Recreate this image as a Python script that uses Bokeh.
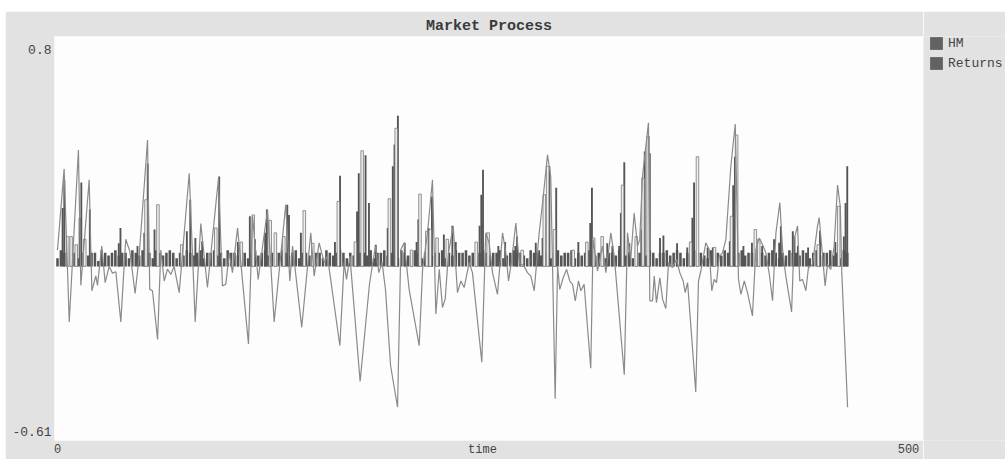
from bokeh.plotting import figure
from bokeh.layouts import row
from bokeh.models import Range1d, FixedTicker, Legend, LegendItem
from bokeh.embed import file_html
from bokeh.resources import INLINE

# ---- data ----
title_text = "Market Process"
x_label = "time"
x_label_pos = 249.7
x_ticks = [0, 500]
y_ticks = [-0.61, 0.8]
series_names = ["HM", "Returns"]

# HM line (time, value) vertices
hm_t = [0, 3.9, 6.9, 12.3, 13.7, 18.6, 20.2, 22.5, 23.5, 26,
        28, 30.4, 32.3, 34.3, 37.2, 40.1, 42.5, 45.6, 48, 52.9,
        54.2, 55.8, 58.8, 60.7, 62.7, 64.6, 66.6, 68.5, 71.5, 77.4,
        80.9, 84.2, 88.1, 94.6, 96.9, 98.9, 100.9, 102.8, 105.8, 112.2,
        114.6, 117.9, 123.4, 127.3, 134.1, 136.5, 138.1, 143.5, 148.8, 150.8,
        153.7, 156.7, 158.6, 165.9, 168.4, 169.8, 171.8, 177.8, 183.3, 184.9,
        186.8, 188.8, 190.7, 192.7, 195.7, 199.8, 201.7, 203.7, 206.6, 212.5,
        214.5, 217.4, 220.3, 222.3, 224.3, 226.2, 227.8, 229.7, 232.5, 235,
        237, 238.9, 241.9, 243.8, 249.3, 251.6, 253.6, 255.6, 258.5, 261.5,
        263.4, 265, 266.9, 269.3, 271.3, 274.2, 276.1, 278.1, 280.1, 283,
        285.2, 287.9, 289.8, 292.4, 293.8, 295.1, 297.1, 299.1, 301, 302.6,
        304.2, 306.1, 307.5, 309.4, 313.3, 314.7, 317.3, 320.2, 322.2, 325.1,
        327.1, 333, 334.9, 336.8, 338.8, 340.8, 342.1, 343.7, 347.2, 348,
        349.6, 350.6, 351.9, 353.9, 355.5, 357.4, 359, 361.3, 363.7, 365.6,
        367.6, 368.8, 370.2, 375, 376.6, 378, 380.9, 382.9, 384.4, 385.8,
        387.2, 388.8, 390.7, 392.7, 395.6, 398.2, 400.1, 401.5, 403.5, 405.4,
        408.3, 410.3, 412.3, 414.6, 416.2, 418.2, 420.1, 422.1, 424.4, 426,
        427.9, 431.3, 432.8, 434.8, 436.1, 437.7, 439.7, 441.2, 443.6, 446.5,
        447.5, 449.5, 451, 452.4, 454.3, 456.3, 458.3, 459.9, 460.8, 464.2]
hm = [0.06, 0.36, -0.205, 0.43, -0.07, 0.32, -0.09, -0.035, -0.07, 0.075,
      -0.06, 0.0, -0.025, -0.02, -0.205, 0.10, 0.056, -0.10, 0.04, 0.467,
      -0.085, -0.09, -0.27, 0.06, -0.054, -0.01, -0.03, 0.0, -0.097, 0.344,
      -0.205, 0.158, -0.078, 0.327, -0.072, -0.066, 0.05, -0.023, 0.142, -0.287,
      0.185, -0.048, 0.21, -0.205, 0.228, -0.054, 0.075, -0.225, 0.124, -0.036,
      0.087, 0.014, 0.038, -0.293, 0.014, -0.048, 0.038, -0.425, -0.066, 0.0,
      0.075, -0.023, 0.015, -0.085, -0.367, -0.52, 0.062, 0.087, -0.085, -0.293,
      -0.011, 0.125, 0.32, -0.176, -0.011, -0.152, -0.12, 0.05, 0.148, -0.097,
      -0.054, -0.078, 0.014, -0.023, -0.354, 0.124, 0.087, -0.023, -0.103, 0.124,
      0.05, -0.054, 0.026, 0.16, 0.014, 0.0, -0.023, -0.036, -0.09, 0.124,
      0.246, 0.412, 0.332, -0.489, 0.0, -0.085, -0.042, -0.011, -0.054, -0.066,
      -0.127, -0.054, -0.09, -0.066, -0.376, 0.1, -0.017, 0.075, -0.023, 0.124,
      0.038, -0.40, 0.124, 0.026, 0.197, 0.075, 0.1, 0.332, 0.53, -0.127,
      -0.127, -0.036, -0.134, -0.042, -0.121, -0.156, 0.014, -0.005, 0.026, -0.023,
      -0.054, -0.097, -0.06, -0.464, -0.054, -0.017, 0.087, 0.062, -0.09, -0.048,
      -0.06, 0.038, 0.05, 0.1, 0.369, 0.526, -0.048, -0.103, -0.054, -0.097,
      -0.183, 0.062, 0.105, 0.075, 0.05, -0.029, -0.127, 0.124, 0.236, 0.062,
      -0.036, -0.168, 0.1, 0.15, -0.054, -0.048, -0.09, -0.005, 0.007, 0.148,
      0.18, 0.038, -0.072, 0.007, -0.011, 0.075, 0.30, 0.222, -0.023, -0.52]

# Returns: small bars every second step
ret_base_t = list(range(0, 465, 2))
ret_base = [0.03, 0.06, 0.05, 0.04, 0.06, 0.05, 0.03, 0.05, 0.06, 0.04, 0.05, 0.05, 0.02, 0.06, 0.05, 0.04, 0.05, 0.06, 0.04, 0.05,
            0.05, 0.03, 0.06, 0.05, 0.04, 0.06, 0.05, 0.05, 0.03, 0.06, 0.05, 0.04, 0.05, 0.06, 0.05, 0.03, 0.05, 0.04, 0.06, 0.05,
            0.04, 0.05, 0.06, 0.03, 0.05, 0.05, 0.06, 0.04, 0.05, 0.03, 0.06, 0.05, 0.05, 0.04, 0.06, 0.05, 0.03, 0.05, 0.06, 0.04,
            0.05, 0.06, 0.04, 0.05, 0.03, 0.05, 0.06, 0.05, 0.04, 0.05, 0.06, 0.03, 0.05, 0.05, 0.04, 0.06, 0.05, 0.05, 0.03, 0.06,
            0.05, 0.04, 0.05, 0.06, 0.05, 0.03, 0.05, 0.04, 0.06, 0.05, 0.05, 0.04, 0.06, 0.03, 0.05, 0.05, 0.06, 0.04, 0.05, 0.05,
            0.03, 0.06, 0.05, 0.04, 0.05, 0.06, 0.05, 0.03, 0.05, 0.06, 0.04, 0.05, 0.05, 0.06, 0.03, 0.05, 0.04, 0.06, 0.05, 0.05,
            0.06, 0.04, 0.05, 0.03, 0.05, 0.06, 0.05, 0.04, 0.05, 0.05, 0.06, 0.03, 0.04, 0.05, 0.06, 0.05, 0.05, 0.04, 0.03, 0.06,
            0.05, 0.05, 0.04, 0.06, 0.05, 0.03, 0.05, 0.06, 0.04, 0.05, 0.05, 0.06, 0.03, 0.05, 0.04, 0.05, 0.06, 0.05, 0.04, 0.05,
            0.06, 0.03, 0.05, 0.05, 0.04, 0.06, 0.05, 0.04, 0.05, 0.03, 0.06, 0.05, 0.05, 0.04, 0.06, 0.05, 0.03, 0.05, 0.05, 0.06,
            0.04, 0.05, 0.06, 0.05, 0.03, 0.05, 0.04, 0.06, 0.05, 0.05, 0.04, 0.03, 0.06, 0.05, 0.05, 0.04, 0.06, 0.05, 0.03, 0.05,
            0.05, 0.06, 0.04, 0.05, 0.05, 0.03, 0.06, 0.05, 0.04, 0.05, 0.06, 0.05, 0.03, 0.05, 0.04, 0.06, 0.05, 0.05, 0.04, 0.06,
            0.05, 0.03, 0.05, 0.06, 0.04, 0.05, 0.05, 0.06, 0.04, 0.05, 0.03, 0.06, 0.05]

# Returns: taller bars (solid)
ret_big_t = [3, 4, 13, 14, 19, 36, 37, 47, 51, 53, 57, 76, 78, 81, 85, 95, 106, 113, 116, 122,
             123, 135, 136, 143, 163, 166, 176, 177, 181, 183, 187, 194, 197, 198, 200, 204, 211, 212, 218, 220,
             227, 232, 234, 248, 249, 250, 259, 263, 269, 270, 281, 283, 285, 289, 293, 306, 313, 314, 323, 326,
             330, 331, 333, 336, 343, 345, 348, 354, 356, 364, 370, 373, 374, 382, 385, 395, 397, 398, 403, 408,
             414, 421, 424, 425, 432, 433, 435, 441, 448, 457, 462, 463, 464]
ret_big = [0.216, 0.32, 0.18, 0.31, 0.21, 0.085, 0.142, 0.075, 0.124, 0.38, 0.136, 0.13, 0.246, 0.105, 0.093, 0.332, 0.09, 0.185, 0.1, 0.124,
           0.21, 0.228, 0.19, 0.124, 0.09, 0.335, 0.203, 0.344, 0.41, 0.234, 0.08, 0.142, 0.37, 0.45, 0.556, 0.087, 0.09, 0.173, 0.142, 0.258,
           0.118, 0.15, 0.09, 0.15, 0.265, 0.357, 0.075, 0.09, 0.075, 0.11, 0.087, 0.06, 0.105, 0.37, 0.29, 0.09, 0.16, 0.29, 0.085, 0.075,
           0.075, 0.197, 0.385, 0.085, 0.136, 0.424, 0.418, 0.105, 0.114, 0.085, 0.07, 0.18, 0.31, 0.07, 0.07, 0.093, 0.30, 0.405, 0.075, 0.087,
           0.075, 0.1, 0.087, 0.148, 0.13, 0.11, 0.075, 0.07, 0.132, 0.09, 0.11, 0.234, 0.37]

# Returns: taller bars (light)
ret_light_t = [6, 8, 11, 16, 52, 59, 73, 93, 108, 115, 125, 128, 133, 145, 150, 165, 175, 179, 195, 199,
               208, 213, 217, 219, 223, 229, 246, 253, 273, 286, 288, 292, 303, 311, 315, 320, 332, 340, 344, 347,
               372, 376, 386, 396, 399, 410, 412, 447, 459]
ret_light = [0.11, 0.11, 0.08, 0.10, 0.246, 0.228, 0.08, 0.142, 0.09, 0.19, 0.17, 0.124, 0.11, 0.206, 0.085, 0.24, 0.09, 0.427, 0.25, 0.51,
             0.06, 0.267, 0.13, 0.136, 0.105, 0.1, 0.09, 0.124, 0.06, 0.265, 0.37, 0.136, 0.06, 0.09, 0.105, 0.11, 0.30, 0.11, 0.326, 0.48,
             0.09, 0.405, 0.07, 0.185, 0.485, 0.136, 0.1, 0.08, 0.222]

BAR = "#555555"
LINE = "#8a8a8a"
KEY = "#626262"
GRAY = "#e2e2e2"
FONT = "Liberation Mono"
NAN = float("nan")

# ---- main chart ----
p = figure(width=918, height=448,
           x_range=Range1d(-1.76, 508.8), y_range=Range1d(-0.643, 0.849),
           output_backend="svg", toolbar_location=None,
           min_border_left=49, min_border_right=0, min_border_top=25, min_border_bottom=17)
p.background_fill_color = "#fdfdfd"
p.border_fill_color = GRAY
p.outline_line_color = None
p.grid.visible = False

p.title.text = title_text
p.title.align = "center"
p.title.text_font = FONT
p.title.text_font_size = "15px"
p.title.text_font_style = "bold"
p.title.text_color = "#3a3a3a"
p.title.standoff = 3

p.xaxis.ticker = FixedTicker(ticks=x_ticks + [x_label_pos])
p.xaxis.major_label_overrides = {0: "0", 500: "500", x_label_pos: x_label}
p.yaxis.ticker = FixedTicker(ticks=y_ticks)
p.yaxis.major_label_overrides = {0.8: "0.8", -0.61: "-0.61"}
for ax in (p.xaxis, p.yaxis):
    ax.axis_line_color = None
    ax.major_tick_line_color = None
    ax.major_tick_out = 0
    ax.major_tick_in = 0
    ax.minor_tick_line_color = None
    ax.minor_tick_out = 0
    ax.major_label_text_font = FONT
    ax.major_label_text_font_size = "13px"
    ax.major_label_text_color = "#444444"
p.xaxis.major_label_text_font_size = "12px"
p.yaxis.major_label_standoff = 3
p.xaxis.major_label_standoff = 2

p.vbar(x=ret_base_t, top=ret_base, bottom=0, width=1.5, fill_color=BAR, line_color=None)
p.vbar(x=ret_big_t, top=ret_big, bottom=0, width=1.1, fill_color=BAR, line_color=None)
p.vbar(x=ret_light_t, top=ret_light, bottom=0, width=1.5,
       fill_color="#eeeeee", line_color="#7a7a7a", line_width=0.8)
p.line(hm_t, hm, line_color=LINE, line_width=1.2)

# ---- legend strip on the right ----
lg = figure(width=82, height=448, x_range=Range1d(0, 1), y_range=Range1d(0, 1),
            output_backend="svg", toolbar_location=None,
            x_axis_location=None, y_axis_location=None,
            min_border=0, min_border_left=0, min_border_right=0,
            min_border_top=0, min_border_bottom=0)
lg.background_fill_color = GRAY
lg.border_fill_color = GRAY
lg.outline_line_color = None
lg.grid.visible = False
k_hm = lg.vbar(x=[NAN], top=[NAN], width=1, fill_color=KEY, line_color=None)
k_ret = lg.vbar(x=[NAN], top=[NAN], width=1, fill_color=KEY, line_color=None)
legend = Legend(items=[LegendItem(label=series_names[0], renderers=[k_hm]),
                       LegendItem(label=series_names[1], renderers=[k_ret])],
                location=(5, 369), glyph_width=16, glyph_height=16,
                label_standoff=4, spacing=4, padding=0, margin=0,
                border_line_color=None, background_fill_alpha=0,
                label_text_font=FONT, label_text_font_size="13px",
                label_text_color="#444444")
lg.add_layout(legend, "center")

layout = row(p, lg, margin=(11, 0, 0, 5), spacing=0)

open("out.html", "w").write(file_html(layout, INLINE))
